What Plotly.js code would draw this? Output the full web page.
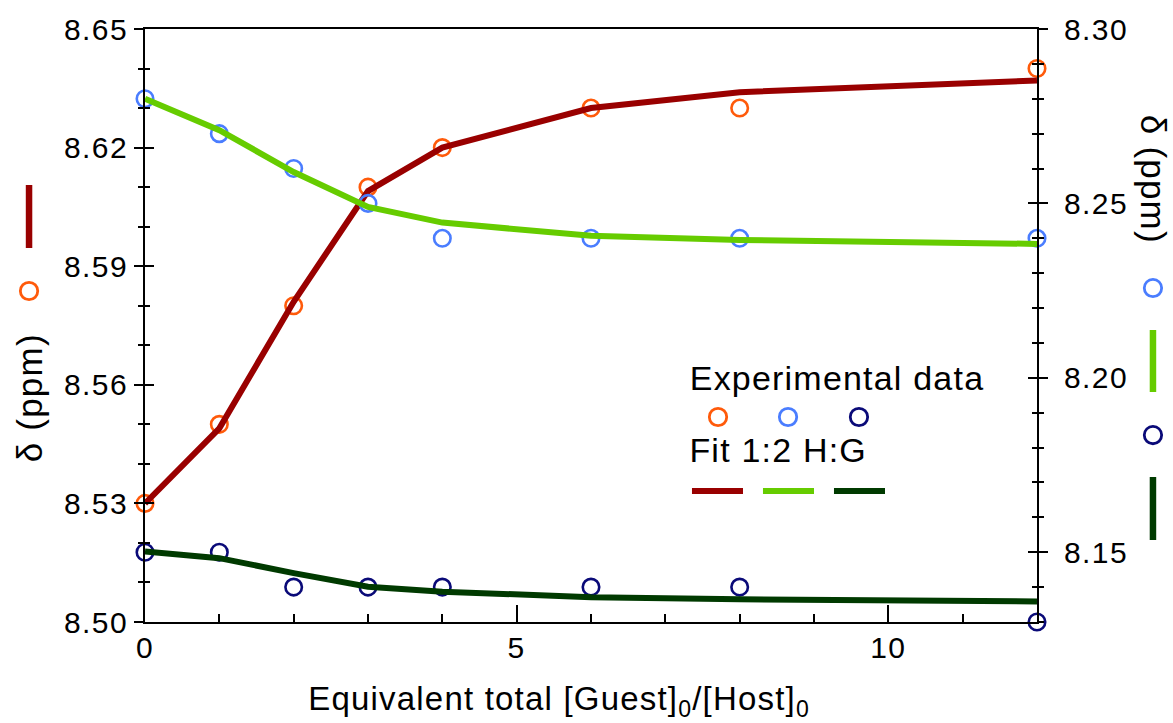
<!DOCTYPE html>
<html>
<head>
<meta charset="utf-8">
<script src="https://cdn.plot.ly/plotly-3.0.1.min.js"></script>
<style>
html,body{margin:0;padding:0;background:#fff;}
#chart{width:1173px;height:723px;}
#chart g.xtick text, #chart g.ytick text, #chart g.y2tick text{letter-spacing:1.4px;}
#chart g.annotation text{letter-spacing:1.2px;}
</style>
</head>
<body>
<div id="chart"></div>
<script>
// ---- data ----
const equivalents = [0, 1, 2, 3, 4, 6, 8, 12];
const orangeExp = [8.53, 8.55, 8.58, 8.61, 8.62, 8.63, 8.63, 8.64];
const redFit = [8.530, 8.549, 8.581, 8.609, 8.620, 8.630, 8.634, 8.637];
const blueExp = [8.28, 8.27, 8.26, 8.25, 8.24, 8.24, 8.24, 8.24];
const greenFit = [8.280, 8.271, 8.259, 8.249, 8.2445, 8.2407, 8.2395, 8.2384];
const navyExp = [8.15, 8.15, 8.14, 8.14, 8.14, 8.14, 8.14, 8.13];
const darkGreenFit = [8.1502, 8.1483, 8.1440, 8.1401, 8.1387, 8.1371, 8.1365, 8.1359];
const xTitle = 'Equivalent total [Guest]<sub>0</sub>/[Host]<sub>0</sub>';
const yTitle = 'δ (ppm)';
const legendTitleExp = 'Experimental data';
const legendTitleFit = 'Fit 1:2 H:G';

const C = {orange:'#ff5a0a', blue:'#4a7dff', navy:'#0a0a78', red:'#990000', green:'#66cc00', dgreen:'#003a00'};
const FONT = 'Liberation Sans, Arial, Helvetica, sans-serif';

function pts(y, color, axis){
  return {x: equivalents, y: y, yaxis: axis, type:'scatter', mode:'markers', cliponaxis:false, showlegend:false,
    marker:{symbol:'circle-open', size:16.5, color:color, line:{width:2.6, color:color}}};
}
function fit(y, color, axis){
  return {x: equivalents, y: y, yaxis: axis, type:'scatter', mode:'lines', cliponaxis:false, showlegend:false,
    line:{color:color, width:6}};
}
const data = [
  pts(orangeExp, C.orange, 'y'), fit(redFit, C.red, 'y'),
  pts(blueExp, C.blue, 'y2'), pts(navyExp, C.navy, 'y2'),
  fit(greenFit, C.green, 'y2'), fit(darkGreenFit, C.dgreen, 'y2'),
  {x:[], y:[], yaxis:'y3', type:'scatter', showlegend:false},
  {x:[], y:[], yaxis:'y4', type:'scatter', showlegend:false}
];

const tickFont = {family: FONT, size: 30, color:'#000'};
const leftRange = [8.50, 8.65], rightRange = [8.13, 8.30];
const layout = {
  width:1173, height:723, paper_bgcolor:'#fff', plot_bgcolor:'#fff',
  margin:{l:145, r:136, t:29, b:101}, showlegend:false,
  font:{family:FONT, color:'#000'},
  xaxis:{range:[0,12], dtick:5, tick0:0, showgrid:false, zeroline:false, showline:true, mirror:true,
    linecolor:'#000', linewidth:2, ticks:'inside', ticklen:17, tickwidth:2, tickcolor:'#000',
    minor:{dtick:1, ticks:'inside', ticklen:8, tickwidth:2, tickcolor:'#000'},
    tickfont:tickFont, ticklabelstandoff:-2},
  yaxis:{range:leftRange, dtick:0.03, tick0:8.50, tickformat:'.2f', showgrid:false, zeroline:false,
    showline:true, linecolor:'#000', linewidth:2, ticks:'outside', ticklen:9, tickwidth:2, tickcolor:'#000',
    minor:{dtick:0.01, ticks:'outside', ticklen:5, tickwidth:2, tickcolor:'#000'}, tickfont:tickFont},
  yaxis3:{range:leftRange, overlaying:'y', side:'left', dtick:0.03, tick0:8.50, showgrid:false, zeroline:false,
    showline:false, showticklabels:false, ticks:'inside', ticklen:9, tickwidth:2, tickcolor:'#000',
    minor:{dtick:0.01, ticks:'inside', ticklen:5, tickwidth:2, tickcolor:'#000'}},
  yaxis2:{range:rightRange, overlaying:'y', side:'right', dtick:0.05, tick0:8.15, tickformat:'.2f', showgrid:false, zeroline:false,
    showline:true, linecolor:'#000', linewidth:2, ticks:'outside', ticklen:9, tickwidth:2, tickcolor:'#000',
    minor:{dtick:0.01, ticks:'outside', ticklen:5, tickwidth:2, tickcolor:'#000'}, tickfont:tickFont, ticklabelstandoff:10},
  yaxis4:{range:rightRange, overlaying:'y', side:'right', dtick:0.05, tick0:8.15, showgrid:false, zeroline:false,
    showline:false, showticklabels:false, ticks:'inside', ticklen:9, tickwidth:2, tickcolor:'#000',
    minor:{dtick:0.01, ticks:'inside', ticklen:5, tickwidth:2, tickcolor:'#000'}},
  annotations:[
    {text:xTitle, xref:'paper', yref:'paper', x:0.4641, y:-0.1330, xanchor:'center', yanchor:'middle', showarrow:false,
      font:{family:FONT, size:33, color:'#000'}},
    {text:yTitle, xref:'paper', yref:'paper', x:-0.130, y:0.3777, xanchor:'center', yanchor:'middle', textangle:-90, showarrow:false,
      font:{family:FONT, size:35, color:'#000'}},
    {text:yTitle, xref:'paper', yref:'paper', x:1.130, y:0.7454, xanchor:'center', yanchor:'middle', textangle:90, showarrow:false,
      font:{family:FONT, size:35, color:'#000'}},
    {text:legendTitleExp, xref:'paper', yref:'paper', x:0.7758, y:0.4115, xanchor:'center', yanchor:'middle', showarrow:false,
      font:{family:FONT, size:34, color:'#000'}},
    {text:legendTitleFit, xref:'paper', yref:'paper', x:0.7091, y:0.2900, xanchor:'center', yanchor:'middle', showarrow:false,
      font:{family:FONT, size:34, color:'#000'}}
  ],
  shapes:[]
};
function circleKey(px, py, color){
  return {type:'circle', xref:'paper', yref:'paper', xsizemode:'pixel', ysizemode:'pixel', xanchor:px, yanchor:py,
    x0:-8.7, x1:8.7, y0:-8.7, y1:8.7, line:{color:color, width:2.8}, fillcolor:'rgba(0,0,0,0)'};
}
function vLineKey(px, py0, py1, color){
  return {type:'line', xref:'paper', yref:'paper', x0:px, x1:px, y0:py0, y1:py1, line:{color:color, width:6.5}};
}
function hLineKey(px0, px1, py, color){
  return {type:'line', xref:'paper', yref:'paper', x0:px0, x1:px1, y0:py, y1:py, line:{color:color, width:6}};
}
layout.shapes.push(
  circleKey(-0.1300, 0.5582, C.orange), vLineKey(-0.1300, 0.6307, 0.7369, C.red),
  circleKey(1.1300, 0.5632, C.blue), vLineKey(1.1300, 0.3879, 0.4924, C.green),
  circleKey(1.1300, 0.3153, C.navy), vLineKey(1.1300, 0.1383, 0.2445, C.dgreen),
  circleKey(0.6424, 0.3457, C.orange), circleKey(0.7209, 0.3457, C.blue), circleKey(0.8004, 0.3457, C.navy),
  hLineKey(0.6132, 0.6704, 0.2209, C.red), hLineKey(0.6928, 0.7500, 0.2209, C.green), hLineKey(0.7724, 0.8296, 0.2209, C.dgreen)
);
Plotly.newPlot('chart', data, layout, {staticPlot:true, displayModeBar:false});
</script>
</body>
</html>
